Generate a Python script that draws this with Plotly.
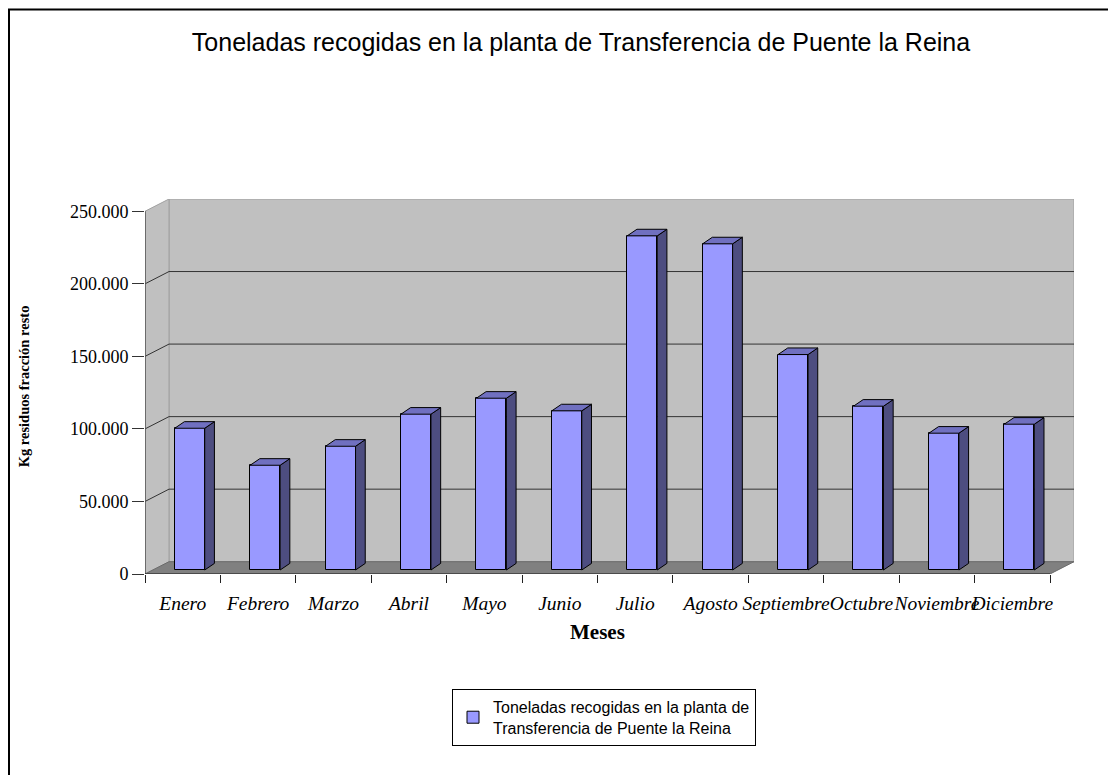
import plotly.graph_objects as go

# ---------------- data ----------------
meses = ["Enero", "Febrero", "Marzo", "Abril", "Mayo", "Junio", "Julio",
         "Agosto", "Septiembre", "Octubre", "Noviembre", "Diciembre"]
kg = [97700, 72200, 85300, 107400, 118400, 109700, 230300,
      224800, 148500, 112900, 94300, 100500]
y_ticks = [0, 50000, 100000, 150000, 200000, 250000]
serie_legend = "Toneladas recogidas en la planta de<br>Transferencia de Puente la Reina"
titulo = "Toneladas recogidas en la planta de Transferencia de Puente la Reina"
y_title = "Kg residuos fracción resto"
x_title = "Meses"

# ---------------- geometry (pixels, page coordinates) ----------------
OFF = 8                      # page body margin
W, H = 1116 - OFF, 775 - OFF
L = 145 - OFF
RIGHT_EDGE = 1074 - OFF
R = W - RIGHT_EDGE
FLOOR_PX = 574 - OFF         # pixel row of the front floor edge
PX_Y = 363 / 250000          # pixels per data unit on the y axis
DEPTH_DX, DEPTH_DY = 24, 12.3          # wall depth offset
BAR_DX, BAR_DY = 7, 4                  # bar front plane offset
BAR_W = 30
BAR_DDX, BAR_DDY = 9.7, 6.6            # bar depth

n = len(meses)
px_cat = (RIGHT_EDGE - L - DEPTH_DX) / n


def cx(px):
    return px / px_cat


def cy(px):
    return px / PX_Y


ymax = y_ticks[-1]
DXc, DYd = cx(DEPTH_DX), cy(DEPTH_DY)
y_top = ymax + DYd
plot_h = y_top * PX_Y
T = FLOOR_PX - plot_h
B = H - FLOOR_PX
x0, x1 = -0.5, n - 0.5
pw = W - L - R

front_x = [i + cx(BAR_DX) for i in range(n)]
base = cy(BAR_DY)
bw = cx(BAR_W)
bdx, bdy = cx(BAR_DDX), cy(BAR_DDY)

# side and top faces built from the data
side_x, side_y, top_x, top_y = [], [], [], []
for fx, v in zip(front_x, kg):
    xl, xr = fx - bw / 2, fx + bw / 2
    side_x += [xr, xr + bdx, xr + bdx, xr, xr, None]
    side_y += [base, base + bdy, base + bdy + v, base + v, base, None]
    top_x += [xl, xr, xr + bdx, xl + bdx, xl, None]
    top_y += [base + v, base + v, base + v + bdy, base + v + bdy, base + v, None]

fig = go.Figure()
fig.add_trace(go.Bar(
    x=front_x, y=kg, base=base, width=bw, name=serie_legend,
    marker=dict(color="#9999FF", line=dict(color="black", width=1)),
    customdata=meses, hovertemplate="%{customdata}: %{y:,d}<extra></extra>",
))
fig.add_trace(go.Scatter(
    x=side_x, y=side_y, mode="lines", fill="toself", fillcolor="#4D4D80",
    line=dict(color="black", width=1), showlegend=False, hoverinfo="skip",
))
fig.add_trace(go.Scatter(
    x=top_x, y=top_y, mode="lines", fill="toself", fillcolor="#7070C0",
    line=dict(color="black", width=1), showlegend=False, hoverinfo="skip",
))

shapes = []
# back wall
shapes.append(dict(type="rect", xref="x", yref="y", layer="below",
                   x0=x0 + DXc, x1=x1 + DXc, y0=DYd, y1=ymax + DYd,
                   fillcolor="#C0C0C0", line=dict(color="#A0A0A0", width=1)))
# left wall
shapes.append(dict(type="path", xref="x", yref="y", layer="below",
                   path=f"M {x0},0 L {x0},{ymax} L {x0 + DXc},{ymax + DYd} L {x0 + DXc},{DYd} Z",
                   fillcolor="#C0C0C0", line=dict(color="#A0A0A0", width=1)))
# floor
shapes.append(dict(type="path", xref="x", yref="y", layer="below",
                   path=f"M {x0},0 L {x1},0 L {x1 + DXc},{DYd} L {x0 + DXc},{DYd} Z",
                   fillcolor="#808080", line=dict(color="#6A6A6A", width=1)))
# gridlines on back wall and left wall
for v in y_ticks[1:-1]:
    shapes.append(dict(type="line", xref="x", yref="y", layer="below",
                       x0=x0 + DXc, x1=x1 + DXc, y0=v + DYd, y1=v + DYd,
                       line=dict(color="#333333", width=1)))
    shapes.append(dict(type="line", xref="x", yref="y", layer="below",
                       x0=x0, x1=x0 + DXc, y0=v, y1=v + DYd,
                       line=dict(color="#333333", width=1)))
# front axis lines
shapes.append(dict(type="line", xref="x", yref="y", layer="above",
                   x0=x0, x1=x0, y0=0, y1=ymax, line=dict(color="#555555", width=1.5)))
shapes.append(dict(type="line", xref="x", yref="y", layer="above",
                   x0=x0, x1=x1, y0=0, y1=0, line=dict(color="#222222", width=1)))
# chart-area border (top and left edges visible)
shapes.append(dict(type="rect", xref="paper", yref="paper",
                   x0=(1 - L) / pw, x1=(W + 10 - L) / pw,
                   y0=(FLOOR_PX - (H + 10)) / plot_h, y1=(FLOOR_PX - 1) / plot_h,
                   line=dict(color="#000000", width=2), fillcolor="rgba(0,0,0,0)"))

fig.update_layout(
    width=W, height=H,
    margin=dict(l=L, r=R, t=T, b=B, pad=0),
    paper_bgcolor="white", plot_bgcolor="white",
    separators=",.",
    showlegend=True,
    bargap=0,
    title=dict(text=titulo, x=(581 - OFF) / W, xanchor="center",
               y=1 - (42 - OFF) / H, yanchor="middle",
               xref="container", yref="container",
               font=dict(family="Liberation Sans, Arial", size=25, color="black")),
    xaxis=dict(range=[x0, x1 + DXc], tickvals=list(range(n)), ticktext=meses,
               ticks="", tickangle=0, showgrid=False, zeroline=False, showline=False,
               ticklabelstandoff=15,
               tickfont=dict(family="Liberation Serif, Times New Roman", size=19.5,
                             style="italic", color="black"),
               minor=dict(tickmode="linear", tick0=-0.5, dtick=1, ticks="outside",
                          ticklen=8, tickcolor="#222222", showgrid=False),
               fixedrange=True),
    yaxis=dict(range=[0, y_top], tickvals=y_ticks, tickformat=",d",
               ticks="outside", ticklen=12, tickcolor="#333333",
               showgrid=False, zeroline=False, showline=False,
               tickfont=dict(family="Liberation Serif, Times New Roman", size=18, color="black"),
               title=dict(text=y_title, standoff=36,
                          font=dict(family="Liberation Serif, Times New Roman", size=14.5,
                                    weight="bold", color="black")),
               fixedrange=True),
    legend=dict(x=(452 - OFF - L) / pw, y=(FLOOR_PX - (689 - OFF)) / plot_h,
                xanchor="left", yanchor="top", itemwidth=30,
                bordercolor="black", borderwidth=1, bgcolor="white",
                font=dict(family="Liberation Sans, Arial", size=16, color="black")),
    annotations=[dict(text=x_title, xref="x", yref="paper", x=(n - 1) / 2,
                      y=(FLOOR_PX - (632 - OFF)) / plot_h, yanchor="middle", showarrow=False,
                      font=dict(family="Liberation Serif, Times New Roman", size=21,
                                weight="bold", color="black"))],
    shapes=shapes,
)

fig.write_html("out.html")
